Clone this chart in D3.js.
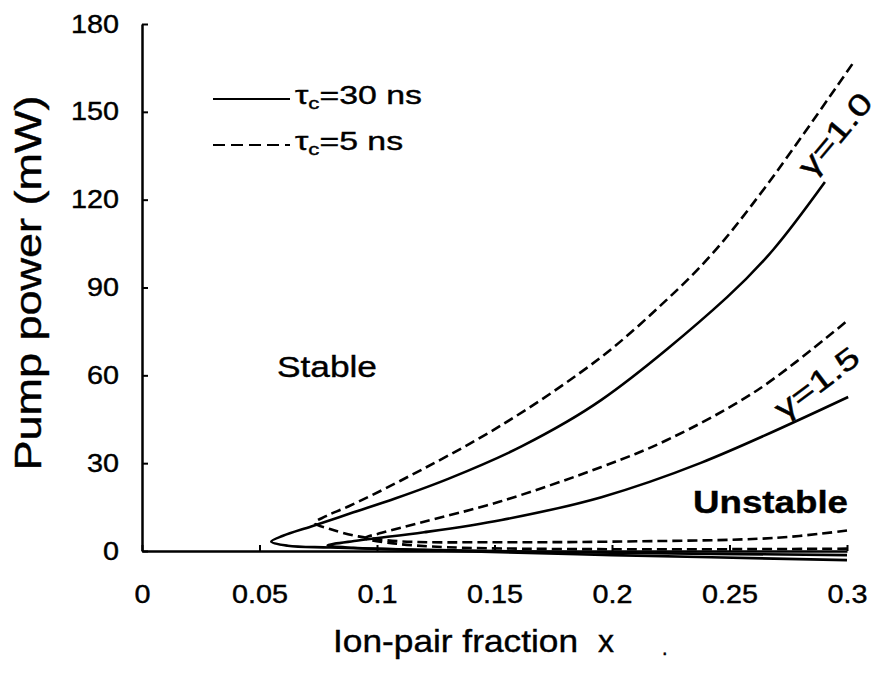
<!DOCTYPE html>
<html>
<head>
<meta charset="utf-8">
<script src="https://cdn.jsdelivr.net/npm/d3@7"></script>
<style>
body{margin:0;background:#fff;}
text{font-family:"Liberation Sans",Arial,sans-serif;fill:#000;stroke:#000;stroke-width:0.4px;}
</style>
</head>
<body>
<div id="chart"></div>
<script>
// tick values
var xTicks = [0, 0.05, 0.1, 0.15, 0.2, 0.25, 0.3];
var yTicks = [0, 30, 60, 90, 120, 150, 180];

// each curve: [x, P] in path order (lower branch -> nose -> upper branch)
var solidG10 = [[0.3,-3.1],[0.2,-1.4],[0.12,0.3],[0.08,1.2],[0.062,1.8],[0.055,3.2],[0.06,5.2],[0.072,8.4],[0.09,13.2],[0.108,18],[0.1308,24.8],[0.1617,35.8],[0.1955,51.6],[0.249,86.7],[0.2685,102.8],[0.2906,126]];
var dashG10 = [[0.3,7.0],[0.27,4.5],[0.2,3.2],[0.15,3.0],[0.11,3.3],[0.092,5],[0.08,7.5],[0.0735,9.6],[0.078,11.8],[0.088,15.3],[0.11,24],[0.153,43],[0.1955,66.3],[0.2222,85],[0.2421,101],[0.265,124],[0.3026,166.7]];
var solidG15 = [[0.3,-1.4],[0.2,-0.6],[0.12,0.4],[0.09,1.1],[0.079,1.9],[0.092,3.6],[0.12,6.4],[0.153,10.6],[0.1955,18.4],[0.2378,30.1],[0.3005,52.6]];
var dashG15 = [[0.3,0.8],[0.2,0.6],[0.13,1.3],[0.107,2.6],[0.095,4.4],[0.102,6.2],[0.118,9.6],[0.152,16.8],[0.1955,28.7],[0.2234,37.9],[0.262,55],[0.3005,78.9]];

var legendLabels = ["30 ns", "5 ns"];

var width = 873, height = 688;
var svg = d3.select("#chart").append("svg")
    .attr("width", width)
    .attr("height", height);

var x = d3.scaleLinear().domain([0, 0.3]).range([142, 847]);
var y = d3.scaleLinear().domain([0, 180]).range([551, 24]);

// the scanned lettering is wider than Arial, stretch it a bit
function widen(sel, k){
    sel.each(function(){
        var len = this.getComputedTextLength();
        d3.select(this).attr("textLength", len * k).attr("lengthAdjust", "spacingAndGlyphs");
    });
}

// axes
svg.append("g")
    .attr("transform", "translate(0," + y(0) + ")")
    .call(d3.axisBottom(x).tickValues(xTicks).tickFormat(function(d){ return String(d); })
        .tickSizeInner(-6).tickSizeOuter(0).tickPadding(34));
svg.append("g")
    .attr("transform", "translate(" + x(0) + ",0)")
    .call(d3.axisLeft(y).tickValues(yTicks).tickFormat(function(d){ return String(d); })
        .tickSizeInner(-6).tickSizeOuter(0).tickPadding(23));

svg.selectAll(".domain").attr("stroke", "#000").attr("stroke-width", 2.5);
svg.selectAll(".tick line").attr("stroke", "#000").attr("stroke-width", 2);
svg.selectAll(".tick text")
    .attr("font-size", 25)
    .attr("font-family", "Liberation Sans, Arial, sans-serif")
    .attr("fill", "#000")
    .call(widen, 1.15);

// curves
var line = d3.line()
    .x(function(d){ return x(d[0]); })
    .y(function(d){ return y(d[1]); })
    .curve(d3.curveCatmullRom.alpha(0.5));

function drawCurve(data, dashed){
    svg.append("path")
        .datum(data)
        .attr("d", line)
        .attr("fill", "none")
        .attr("stroke", "#000")
        .attr("stroke-width", 2.6)
        .attr("stroke-dasharray", dashed ? "10,5" : null);
}
drawCurve(solidG10, false);
drawCurve(solidG15, false);
drawCurve(dashG10, true);
drawCurve(dashG15, true);

// legend
var leg = svg.append("g");
legendLabels.forEach(function(lbl, i){
    var ly = 99 + i * 46;
    leg.append("line")
        .attr("x1", 213).attr("x2", 290)
        .attr("y1", ly).attr("y2", ly)
        .attr("stroke", "#000").attr("stroke-width", 2)
        .attr("stroke-dasharray", i == 1 ? "12,6" : null);
    var t = leg.append("text")
        .attr("x", 295).attr("y", ly + 5)
        .attr("font-size", 26);
    t.append("tspan").text("τ");
    t.append("tspan").attr("font-size", 17).attr("dy", 5).text("c");
    t.append("tspan").attr("dy", -5).text("=" + lbl);
    t.call(widen, 1.3);
});

// region and curve labels
svg.append("text")
    .attr("x", 277).attr("y", 377)
    .attr("font-size", 30)
    .attr("textLength", 100).attr("lengthAdjust", "spacingAndGlyphs")
    .text("Stable");
svg.append("text")
    .attr("x", 693).attr("y", 513)
    .attr("font-size", 32)
    .attr("font-weight", "bold")
    .attr("textLength", 155).attr("lengthAdjust", "spacingAndGlyphs")
    .text("Unstable");
svg.append("text")
    .attr("transform", "translate(843,141) rotate(-50)")
    .attr("text-anchor", "middle")
    .attr("font-size", 30)
    .attr("textLength", 98).attr("lengthAdjust", "spacingAndGlyphs")
    .text("γ=1.0");
svg.append("text")
    .attr("transform", "translate(823,391) rotate(-37)")
    .attr("text-anchor", "middle")
    .attr("font-size", 30)
    .attr("textLength", 98).attr("lengthAdjust", "spacingAndGlyphs")
    .text("γ=1.5");

// axis titles
svg.append("text")
    .attr("transform", "translate(41,283) rotate(-90)")
    .attr("text-anchor", "middle")
    .attr("font-size", 37)
    .attr("textLength", 375)
    .attr("lengthAdjust", "spacingAndGlyphs")
    .text("Pump power (mW)");
svg.append("text")
    .attr("x", 333).attr("y", 652)
    .attr("font-size", 32)
    .attr("textLength", 245).attr("lengthAdjust", "spacingAndGlyphs")
    .text("Ion-pair fraction");
svg.append("text")
    .attr("x", 598).attr("y", 652)
    .attr("font-size", 32)
    .text("x");
svg.append("text")
    .attr("x", 662).attr("y", 655)
    .attr("font-size", 20)
    .text(".");
</script>
</body>
</html>
